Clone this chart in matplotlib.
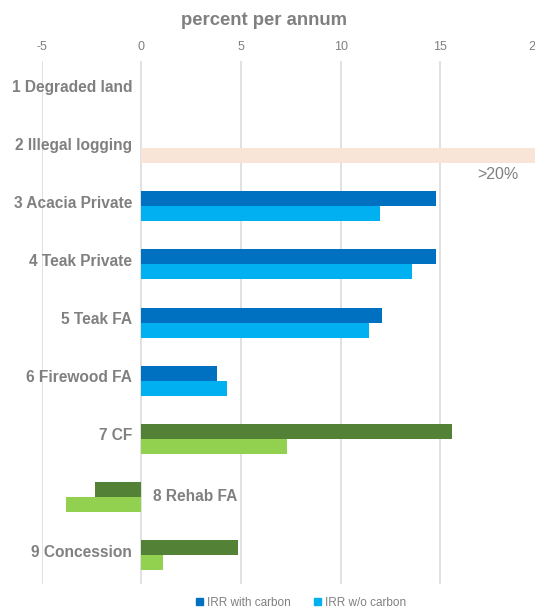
import matplotlib
matplotlib.use("Agg")
import matplotlib.pyplot as plt
import matplotlib.transforms as mtransforms
from matplotlib.patches import Patch
import numpy as np

plt.rcParams['font.family'] = ['Liberation Sans', 'DejaVu Sans']

categories = ["1 Degraded land", "2 Illegal logging", "3 Acacia Private", "4 Teak Private",
              "5 Teak FA", "6 Firewood FA", "7 CF", "8 Rehab FA", "9 Concession"]
# IRR in percent per annum; None where no bar is drawn
irr_with = [None, None, 14.8, 14.8, 12.1, 3.8, 15.6, -2.3, 4.85]
irr_without = [None, 20.0, 12.0, 13.6, 11.4, 4.3, 7.3, -3.8, 1.1]

xticks = [-5, 0, 5, 10, 15, 20]

gray = "#808080"
dark_blue, light_blue = "#0070C0", "#00B0F0"
dark_green, light_green = "#538135", "#92D050"
peach = "#F8E5D8"

# colour per category: (with carbon, without carbon)
colors_with = [None, None, dark_blue, dark_blue, dark_blue, dark_blue, dark_green, dark_green, dark_green]
colors_without = [None, peach, light_blue, light_blue, light_blue, light_blue, light_green, light_green, light_green]

fig = plt.figure(figsize=(5.35, 6.13), dpi=100)
ax = fig.add_axes([0.0779, 0.0473, 0.9313, 0.853])

h = 0.258
y = np.arange(len(categories))
for i in range(len(categories)):
    if irr_with[i] is not None:
        ax.barh(y[i] - h / 2, irr_with[i], height=h, color=colors_with[i], zorder=2)
    if irr_without[i] is not None:
        ax.barh(y[i] + h / 2, irr_without[i], height=h, color=colors_without[i], zorder=2)

ax.set_xlim(-5, 20)
ax.set_ylim(len(categories) - 0.5, -0.5)
ax.set_xticks(xticks)
ax.set_xticklabels([str(t) for t in xticks])
ax.xaxis.tick_top()
ax.tick_params(axis='x', length=0, labelsize=9, labelcolor=gray, pad=6)
ax.set_yticks([])
ax.grid(axis='x', color="#DCDCDC", linewidth=1.2, zorder=0)
for s in ax.spines.values():
    s.set_visible(False)

# last tick label runs into the right edge; nudge it left a little
last = ax.get_xticklabels()[-1]
last.set_transform(last.get_transform() + mtransforms.ScaledTranslation(-5 / 100, 0, fig.dpi_scale_trans))

# category labels sit next to the zero line
for i, name in enumerate(categories):
    if name.startswith("8"):
        ax.text(0.6, y[i], name, ha='left', va='center', fontsize=11.2,
                fontweight='bold', color=gray)
    else:
        ax.text(-0.45, y[i] - 0.05, name, ha='right', va='center', fontsize=11.2,
                fontweight='bold', color=gray)

ax.text(17.9, 1.46, ">20%", ha='center', va='center', fontsize=11.5, color=gray)

fig.text(0.494, 0.966, "percent per annum", ha='center', va='center', fontsize=13.3,
         fontweight='bold', color=gray)

handles = [Patch(color=dark_blue, label="IRR with carbon"),
           Patch(color=light_blue, label="IRR w/o carbon")]
leg = fig.legend(handles=handles, loc='lower center', bbox_to_anchor=(0.563, -0.01), ncol=2,
                 frameon=False, fontsize=8.5, handlelength=0.6, handleheight=0.6,
                 handletextpad=0.3, columnspacing=2.0)
for t in leg.get_texts():
    t.set_color(gray)

fig.savefig("out.png", dpi=100)
